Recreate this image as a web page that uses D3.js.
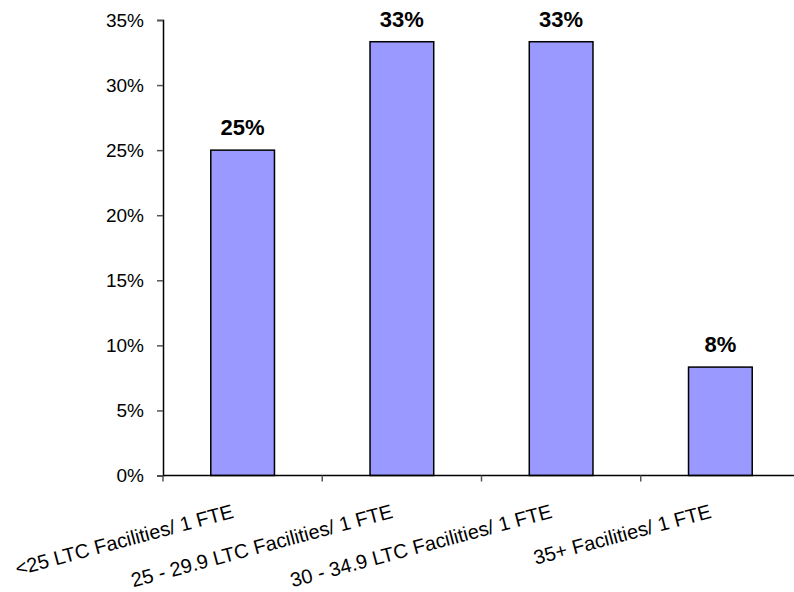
<!DOCTYPE html>
<html>
<head>
<meta charset="utf-8">
<script src="https://cdn.jsdelivr.net/npm/d3@7"></script>
<style>
  body { margin: 0; background: #fff; }
  text { font-family: "Liberation Sans", Arial, sans-serif; }
</style>
</head>
<body>
<div id="chart"></div>
<script>
var categories = ["<25 LTC Facilities/ 1 FTE", "25 - 29.9 LTC Facilities/ 1 FTE", "30 - 34.9 LTC Facilities/ 1 FTE", "35+ Facilities/ 1 FTE"]
var values = [0.25, 0.3333, 0.3333, 0.0833]
var yTicks = [0, 0.05, 0.10, 0.15, 0.20, 0.25, 0.30, 0.35]

var width = 794, height = 592
var margin = { top: 20, left: 163, right: -6, bottom: 116.5 }

var svg = d3.select("#chart")
            .append("svg")
            .attr("width", width)
            .attr("height", height)

var x = d3.scaleBand()
          .domain(categories)
          .range([margin.left, width - margin.right])
          .padding(0)

var y = d3.scaleLinear()
          .domain([0, 0.35])
          .range([height - margin.bottom, margin.top])

var barW = x.bandwidth() * 0.4

// bars
svg.selectAll(".bar")
   .data(values)
   .enter().append("rect")
   .attr("class", "bar")
   .attr("x", function(d, i) { return x(categories[i]) + (x.bandwidth() - barW) / 2 })
   .attr("y", function(d) { return y(d) })
   .attr("width", barW)
   .attr("height", function(d) { return y(0) - y(d) })
   .style("fill", "#9999ff")
   .style("stroke", "#000")
   .style("stroke-width", 1.5)

// value labels
svg.selectAll(".vlabel")
   .data(values)
   .enter().append("text")
   .attr("class", "vlabel")
   .attr("x", function(d, i) { return x(categories[i]) + x.bandwidth() / 2 })
   .attr("y", function(d) { return y(d) - 15 })
   .attr("text-anchor", "middle")
   .style("font-size", "22px")
   .style("font-weight", "bold")
   .text(function(d) { return d3.format(".0%")(d) })

// y axis
var yAxis = svg.append("g")
   .attr("transform", "translate(" + margin.left + ",0)")
   .call(d3.axisLeft(y).tickValues(yTicks).tickFormat(d3.format(".0%")).tickSize(6).tickPadding(13))
yAxis.select(".domain").attr("stroke", "#000").attr("stroke-width", 1.5)
yAxis.selectAll(".tick line").attr("stroke", "#555").attr("stroke-width", 1.5)
yAxis.selectAll("text").style("font-size", "19px").attr("fill", "#000")

// x axis line + ticks at category boundaries
var y0 = y(0)
svg.append("line")
   .attr("x1", margin.left).attr("x2", width)
   .attr("y1", y0).attr("y2", y0)
   .attr("stroke", "#000").attr("stroke-width", 1.5)

svg.selectAll(".xtick")
   .data(categories)
   .enter().append("line")
   .attr("class", "xtick")
   .attr("x1", function(d) { return x(d) })
   .attr("x2", function(d) { return x(d) })
   .attr("y1", y0).attr("y2", y0 + 6)
   .attr("stroke", "#555").attr("stroke-width", 1.5)

// rotated category labels
svg.selectAll(".xlabel")
   .data(categories)
   .enter().append("text")
   .attr("class", "xlabel")
   .attr("text-anchor", "end")
   .attr("transform", function(d) {
       return "translate(" + (x(d) + x.bandwidth() / 2 - 8) + "," + (y0 + 42) + ") rotate(-15)"
   })
   .style("font-size", "20px")
   .text(function(d) { return d })
</script>
</body>
</html>
